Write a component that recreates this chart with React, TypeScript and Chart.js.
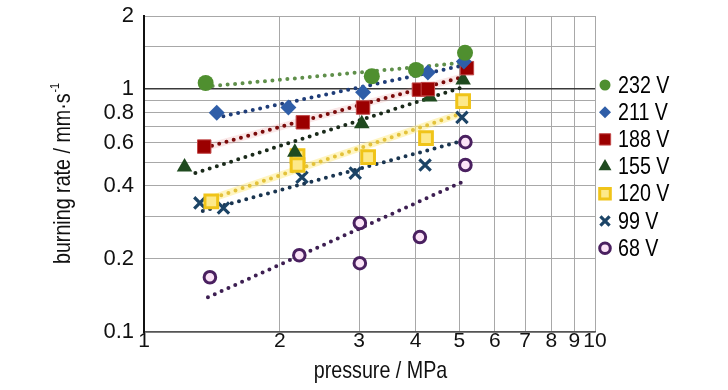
import React, { useEffect, useRef } from 'react';
import { Chart, registerables } from 'chart.js';
import { drawPoint } from 'chart.js/helpers';

Chart.register(...registerables);

// ---------- data ----------
const seriesLabels = ['232 V', '211 V', '188 V', '155 V', '120 V', '99 V', '68 V'];

const pressure232 = [1.37, 3.2, 4.01, 5.15];
const rate232 = [1.06, 1.13, 1.2, 1.41];
const pressure211 = [1.45, 2.09, 3.06, 4.26, 5.12];
const rate211 = [0.8, 0.84, 0.97, 1.17, 1.3];
const pressure188 = [1.36, 2.25, 3.06, 4.07, 4.26, 5.2];
const rate188 = [0.58, 0.73, 0.84, 0.995, 1.0, 1.22];
const pressure155 = [1.23, 2.16, 3.04, 4.3, 5.1];
const rate155 = [0.478, 0.55, 0.72, 0.927, 1.09];
const pressure120 = [1.41, 2.19, 2.19, 3.14, 4.22, 5.1];
const rate120 = [0.345, 0.53, 0.487, 0.525, 0.629, 0.892];
const pressure99 = [1.33, 1.5, 2.24, 2.94, 4.2, 5.07];
const rate99 = [0.34, 0.324, 0.434, 0.451, 0.487, 0.765];
const pressure68 = [1.4, 2.21, 3.01, 3.01, 4.09, 5.16, 5.16];
const rate68 = [0.168, 0.207, 0.281, 0.192, 0.246, 0.605, 0.487];

// trend lines (end points)
const trendP232 = [1.42, 5.02];
const trendR232 = [1.03, 1.28];
const trendP211 = [1.5, 5.02];
const trendR211 = [0.774, 1.243];
const trendP188 = [1.415, 5.07];
const trendR188 = [0.585, 1.12];
const trendP155 = [1.3, 5.02];
const trendR155 = [0.451, 1.01];
const trendP120 = [1.38, 4.94];
const trendR120 = [0.349, 0.782];
const trendP99 = [1.35, 4.97];
const trendR99 = [0.315, 0.605];
const trendP68 = [1.386, 5.07];
const trendR68 = [0.139, 0.414];

const xTickValues = [1, 2, 3, 4, 5, 6, 7, 8, 9, 10];
const yTickLabelValues = [0.1, 0.2, 0.4, 0.6, 0.8, 1, 2];
const xTitle = 'pressure / MPa';
const yTitleMain = 'burning rate / mm·s';
const yTitleSup = '-1';

// ---------- styles ----------
const FONT = "'Liberation Sans', Arial, sans-serif";
const NARROW = 0.82;

const markerStyles = [
  { pointStyle: 'circle', radius: 8, bg: '#4f8f2f', border: '#4f8f2f', bw: 0, lr: 5.5 },
  { pointStyle: 'rectRot', radius: 8, bg: '#2f5ea8', border: '#2f5ea8', bw: 0, lr: 6 },
  { pointStyle: 'rect', radius: 9.5, bg: '#9b0000', border: '#c24848', bw: 1, lr: 8 },
  { pointStyle: 'triangle', radius: 9, bg: '#1f4a1f', border: '#1f4a1f', bw: 0, lr: 7.5 },
  { pointStyle: 'rect', radius: 9, bg: '#fde98a', border: '#f0c419', bw: 3, lr: 7.5 },
  { pointStyle: 'crossRot', radius: 8, bg: '#1c4466', border: '#1c4466', bw: 3.2, lr: 6.5 },
  { pointStyle: 'circle', radius: 5.8, bg: '#fbe3f7', border: '#4a2060', bw: 3, lr: 5.3 },
];
const trendColors = ['#5f8f4a', '#1f3d78', '#7a0a0a', '#1a2a1a', '#e3c23a', '#1a3550', '#3d1f52'];
const trendGlows = [null, null, 'rgba(230,120,120,0.18)', null, 'rgba(255,235,130,0.5)', null, null];

const seriesP = [pressure232, pressure211, pressure188, pressure155, pressure120, pressure99, pressure68];
const seriesR = [rate232, rate211, rate188, rate155, rate120, rate99, rate68];
const trendP = [trendP232, trendP211, trendP188, trendP155, trendP120, trendP99, trendP68];
const trendR = [trendR232, trendR211, trendR188, trendR155, trendR120, trendR99, trendR68];

const zip = (xs: number[], ys: number[]) => xs.map((x, i) => ({ x, y: ys[i] }));

const narrowText = (ctx: any, text: string, x: number, y: number, size: number, align: string, baseline: string) => {
  ctx.save();
  ctx.font = `${size}px ${FONT}`;
  ctx.textBaseline = baseline;
  ctx.textAlign = align;
  ctx.translate(x, y);
  ctx.scale(NARROW, 1);
  ctx.fillText(text, 0, 0);
  ctx.restore();
};

const extrasPlugin = {
  id: 'extras',
  afterDraw(chart: any) {
    const ctx = chart.ctx;
    const area = chart.chartArea;
    ctx.fillStyle = '#111';

    // y axis title with superscript
    ctx.save();
    ctx.translate(70, 174);
    ctx.rotate(-Math.PI / 2);
    ctx.scale(NARROW, 1);
    ctx.fillStyle = '#111';
    ctx.textBaseline = 'alphabetic';
    ctx.textAlign = 'left';
    ctx.font = `24px ${FONT}`;
    const wMain = ctx.measureText(yTitleMain).width;
    ctx.font = `13px ${FONT}`;
    const wSup = ctx.measureText(yTitleSup).width;
    const start = -(wMain + wSup) / 2;
    ctx.font = `24px ${FONT}`;
    ctx.fillText(yTitleMain, start, 0);
    ctx.font = `13px ${FONT}`;
    ctx.fillText(yTitleSup, start + wMain + 1, -11);
    ctx.restore();

    // x axis title
    ctx.save();
    ctx.fillStyle = '#111';
    narrowText(ctx, xTitle, (area.left + area.right) / 2 + 11, 378, 24, 'center', 'alphabetic');
    ctx.restore();

    // legend
    const lx = 605;
    const tx = 618;
    const y0 = 85;
    const step = 27.2;
    seriesLabels.forEach((label, i) => {
      const st = markerStyles[i];
      const y = y0 + i * step;
      ctx.save();
      ctx.fillStyle = st.bg;
      ctx.strokeStyle = st.border;
      ctx.lineWidth = st.bw;
      drawPoint(ctx, { pointStyle: st.pointStyle, radius: st.lr, rotation: 0, borderWidth: st.bw }, lx, y);
      ctx.restore();
      ctx.save();
      ctx.fillStyle = '#000';
      narrowText(ctx, label, tx, y + 1, 24, 'left', 'middle');
      ctx.restore();
    });
  },
};

export default function App() {
  const ref = useRef<HTMLCanvasElement | null>(null);
  useEffect(() => {
    if (!ref.current) return;
    const datasets: any[] = [];
    seriesLabels.forEach((label, i) => {
      const st = markerStyles[i];
      datasets.push({
        label,
        data: zip(seriesP[i], seriesR[i]),
        showLine: false,
        pointStyle: st.pointStyle,
        pointRadius: st.radius,
        pointBackgroundColor: st.bg,
        pointBorderColor: st.border,
        pointBorderWidth: st.bw,
        order: 0,
      });
      if (trendGlows[i]) {
        datasets.push({
          label: label + ' glow',
          data: zip(trendP[i], trendR[i]),
          showLine: true,
          pointRadius: 0,
          borderColor: trendGlows[i],
          borderWidth: 7,
          borderCapStyle: 'round',
          order: 2,
        });
      }
      datasets.push({
        label: label + ' trend',
        data: zip(trendP[i], trendR[i]),
        showLine: true,
        pointRadius: 0,
        borderColor: trendColors[i],
        borderWidth: 4,
        borderDash: [0, 7.5],
        borderCapStyle: 'round',
        order: 1,
      });
    });

    const chart = new Chart(ref.current, {
      type: 'scatter',
      data: { datasets },
      plugins: [extrasPlugin],
      options: {
        animation: false,
        responsive: true,
        maintainAspectRatio: false,
        layout: { padding: { left: 0, right: 133, top: 16, bottom: 0 } },
        plugins: {
          legend: { display: false },
          tooltip: { enabled: false },
        },
        scales: {
          x: {
            type: 'logarithmic',
            min: 1,
            max: 10,
            afterFit: (s: any) => { s.height = 58; },
            afterBuildTicks: (s: any) => { s.ticks = xTickValues.map((v) => ({ value: v })); },
            ticks: {
              padding: -3,
              color: '#111',
              font: { family: FONT, size: 21 },
              callback: (v: any) => String(v),
              maxRotation: 0,
              autoSkip: false,
            },
            grid: { color: '#a8a8a8', lineWidth: 1, drawTicks: false },
            border: { color: '#555', width: 1.5 },
            title: { display: false },
          },
          y: {
            type: 'logarithmic',
            min: 0.1,
            max: 2,
            afterFit: (s: any) => {
              s.width = 144;
              s.paddingTop = 12;
              s.paddingBottom = 12;
            },
            ticks: {
              padding: 10,
              color: '#111',
              font: { family: FONT, size: 22 },
              autoSkip: false,
              callback: (v: any) => {
                const n = Number(Number(v).toPrecision(3));
                return yTickLabelValues.includes(n) ? String(n) : '';
              },
            },
            grid: {
              color: (c: any) => (c.tick && Math.abs(c.tick.value - 1) < 1e-9 ? '#3a3a3a' : '#a8a8a8'),
              lineWidth: (c: any) => (c.tick && Math.abs(c.tick.value - 1) < 1e-9 ? 1.6 : 1),
              drawTicks: false,
            },
            border: { color: '#111', width: 2 },
            title: { display: false },
          },
        },
      },
    });
    return () => chart.destroy();
  }, []);

  return (
    <div style={{ position: 'fixed', left: 0, top: 0, width: 728, height: 390, background: '#fff' }}>
      <canvas ref={ref} />
    </div>
  );
}
